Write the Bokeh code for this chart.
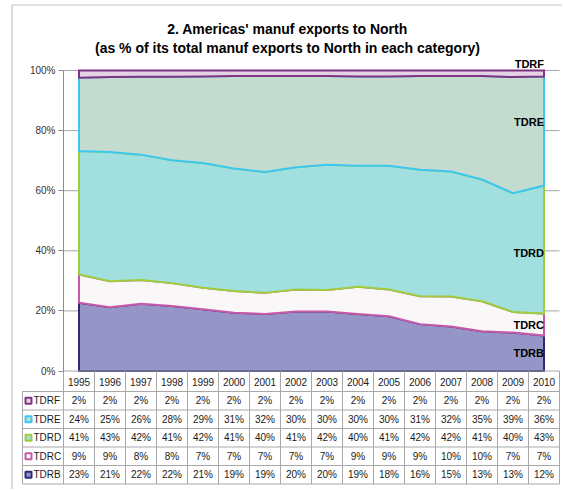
from bokeh.plotting import figure
from bokeh.models import FixedTicker, Range1d
from bokeh.embed import file_html
from bokeh.resources import INLINE
from bokeh.core.properties import value

# ---------------- data ----------------
YEARS = ["1995", "1996", "1997", "1998", "1999", "2000", "2001", "2002",
         "2003", "2004", "2005", "2006", "2007", "2008", "2009", "2010"]
SERIES = ["TDRB", "TDRC", "TDRD", "TDRE", "TDRF"]
TDRB = [22.7, 21.2, 22.4, 21.7, 20.6, 19.4, 19.0, 19.8, 19.8, 19.0, 18.2, 15.6, 14.8, 13.3, 12.8, 11.8]
TDRC = [9.4, 8.7, 7.9, 7.6, 7.1, 7.2, 7.0, 7.3, 7.2, 9.0, 8.9, 9.3, 10.0, 10.0, 6.9, 7.3]
TDRD = [41.0, 43.0, 41.7, 41.0, 41.6, 40.8, 40.2, 40.7, 41.7, 40.3, 41.2, 42.1, 41.6, 40.6, 39.6, 42.6]
TDRE = [24.4, 24.9, 25.9, 27.8, 28.8, 30.8, 32.0, 30.4, 29.6, 29.7, 29.7, 31.2, 31.8, 34.6, 38.7, 36.3]
TDRF = [2.4, 2.2, 2.1, 2.1, 2.0, 1.8, 1.8, 1.8, 1.8, 2.0, 2.0, 1.8, 1.8, 1.8, 2.2, 2.0]
Y_TICKS = [0, 20, 40, 60, 80, 100]
Y_TICK_LABELS = ["0%", "20%", "40%", "60%", "80%", "100%"]
TITLE_1 = "2. Americas' manuf exports to North"
TITLE_2 = "(as % of its total manuf exports to North in each category)"

DATA = {"TDRB": TDRB, "TDRC": TDRC, "TDRD": TDRD, "TDRE": TDRE, "TDRF": TDRF}

# ---------------- styles ----------------
FILL = {"TDRB": "#9595c8", "TDRC": "#faf7f9", "TDRD": "#a2dfdf", "TDRE": "#c3dccf", "TDRF": "#e3d3e4"}
LINE = {"TDRB": "#2b2b78", "TDRC": "#c65aa8", "TDRD": "#a0cc3c", "TDRE": "#3ac8f0", "TDRF": "#7d3481"}
LABEL_NUDGE = {"TDRB": 0.0, "TDRC": 0.0, "TDRD": -1.0, "TDRE": 3.0, "TDRF": 3.0}
FONT = "Liberation Sans"
GRID = "#a6a6a6"
TABLE_LINE = "#a8a8a8"
BORDER = "#c4c4c4"
TXT = "#1a1a1a"

# ---------------- layout (page pixels) ----------------
W, H = 562, 489
X0_PX = 63.0          # left edge of first category
CAT_PX = 31.0         # width of one category
Y_ZERO_PX = 370.5     # 0 %
PX_PER_PCT = 3.005
BORDER_X_PX, BORDER_Y_PX = 11.5, 4.5
TITLE_X_PX = 287.0
TITLE_Y_PX = (28.0, 47.0)
HEADER_MID_PX = 381.0
ROW_TOP_PX = 391.0
ROW_H_PX = 18.5
LEG_LEFT_PX = 22.0
LEG_MARK_PX = 28.0
LEG_TEXT_PX = 33.0

N = len(YEARS)


def dx(px):
    return -0.5 + (px - X0_PX) / CAT_PX


def dy(py):
    return (Y_ZERO_PX - py) / PX_PER_PCT


x = list(range(N))

# normalised stacks (100 % stacked area)
totals = [sum(DATA[s][i] for s in SERIES) for i in range(N)]
lower = [0.0] * N
bands = {}
for s in SERIES:
    upper = [lower[i] + DATA[s][i] / totals[i] * 100.0 for i in range(N)]
    bands[s] = (lower[:], upper)
    lower = upper

p = figure(width=W, height=H, x_range=Range1d(dx(0), dx(W)), y_range=Range1d(dy(H), dy(0)),
           output_backend="svg", toolbar_location=None, x_axis_location=None,
           min_border_left=0, min_border_right=0, min_border_top=0, min_border_bottom=0,
           title=None)
p.outline_line_color = None
p.background_fill_color = "white"
p.border_fill_color = "white"
p.xgrid.visible = False
p.ygrid.visible = False

# outer chart border
p.segment([dx(BORDER_X_PX), dx(BORDER_X_PX)], [dy(BORDER_Y_PX), dy(BORDER_Y_PX)],
          [dx(BORDER_X_PX), dx(W + 5)], [dy(H + 5), dy(BORDER_Y_PX)],
          line_color=BORDER, line_width=1.2)

# title
p.text([dx(TITLE_X_PX)] * 2, [dy(TITLE_Y_PX[0]), dy(TITLE_Y_PX[1])], text=[TITLE_1, TITLE_2],
       text_align="center", text_baseline="middle", text_font=value(FONT),
       text_font_size="14px", text_font_style="bold", text_color="black")

# y axis drawn at the left edge of the category area
ax = p.yaxis[0]
ax.fixed_location = -0.5
ax.ticker = FixedTicker(ticks=Y_TICKS)
ax.major_label_overrides = {t: l for t, l in zip(Y_TICKS, Y_TICK_LABELS)}
ax.bounds = (0, 100)
ax.axis_line_color = "#8c8c8c"
ax.major_tick_line_color = "#8c8c8c"
ax.major_tick_out = 5
ax.major_tick_in = 0
ax.minor_tick_line_color = None
ax.major_label_text_font = FONT
ax.major_label_text_font_size = "10px"
ax.major_label_text_color = "#333333"
ax.major_label_standoff = 3

# horizontal gridlines
gt = [t for t in Y_TICKS if t > 0]
p.segment([-0.5] * len(gt), gt, [N - 0.5] * len(gt), gt, line_color=GRID, line_width=1)

# stacked areas
for s in SERIES:
    lo, up = bands[s]
    p.patch(x + x[::-1], up + lo[::-1], fill_color=FILL[s], line_color=LINE[s],
            line_width=2, line_join="miter")

# series labels at the last category
lx = [N - 1] * len(SERIES)
ly = [(bands[s][0][-1] + bands[s][1][-1]) / 2 + LABEL_NUDGE[s] for s in SERIES]
p.text(lx, ly, text=SERIES, text_align="right", text_baseline="middle",
       text_font=value(FONT), text_font_size="11px", text_font_style="bold", text_color="black")

# ---------------- data table ----------------
ROWS = SERIES[::-1]
nr = len(ROWS)
row_lines = [dy(ROW_TOP_PX + r * ROW_H_PX) for r in range(nr + 1)]
bottom = row_lines[-1]
leg_left = dx(LEG_LEFT_PX)

# header top line and column dividers
p.segment([-0.5], [0], [N - 0.5], [0], line_color=TABLE_LINE, line_width=1)
bx = [i - 0.5 for i in range(N + 1)]
p.segment(bx, [0] * len(bx), bx, [bottom] * len(bx), line_color=TABLE_LINE, line_width=1)
# row lines and legend column edge
p.segment([leg_left] * len(row_lines), row_lines, [N - 0.5] * len(row_lines), row_lines,
          line_color=TABLE_LINE, line_width=1)
p.segment([leg_left], [row_lines[0]], [leg_left], [bottom], line_color=TABLE_LINE, line_width=1)

# year header
p.text(x, [dy(HEADER_MID_PX)] * N, text=YEARS, text_align="center", text_baseline="middle",
       text_font=value(FONT), text_font_size="10px", text_color=TXT)

for r, s in enumerate(ROWS):
    yc = (row_lines[r] + row_lines[r + 1]) / 2
    p.rect([dx(LEG_MARK_PX)], [yc], width=6, height=6, width_units="screen", height_units="screen",
           fill_color=FILL[s], line_color=LINE[s], line_width=2)
    p.text([dx(LEG_TEXT_PX)], [yc], text=[s], text_align="left", text_baseline="middle",
           text_font=value(FONT), text_font_size="10px", text_color=TXT)
    p.text(x, [yc] * N, text=[f"{round(v)}%" for v in DATA[s]], text_align="center",
           text_baseline="middle", text_font=value(FONT), text_font_size="10px", text_color=TXT)

open("out.html", "w").write(file_html(p, INLINE))
